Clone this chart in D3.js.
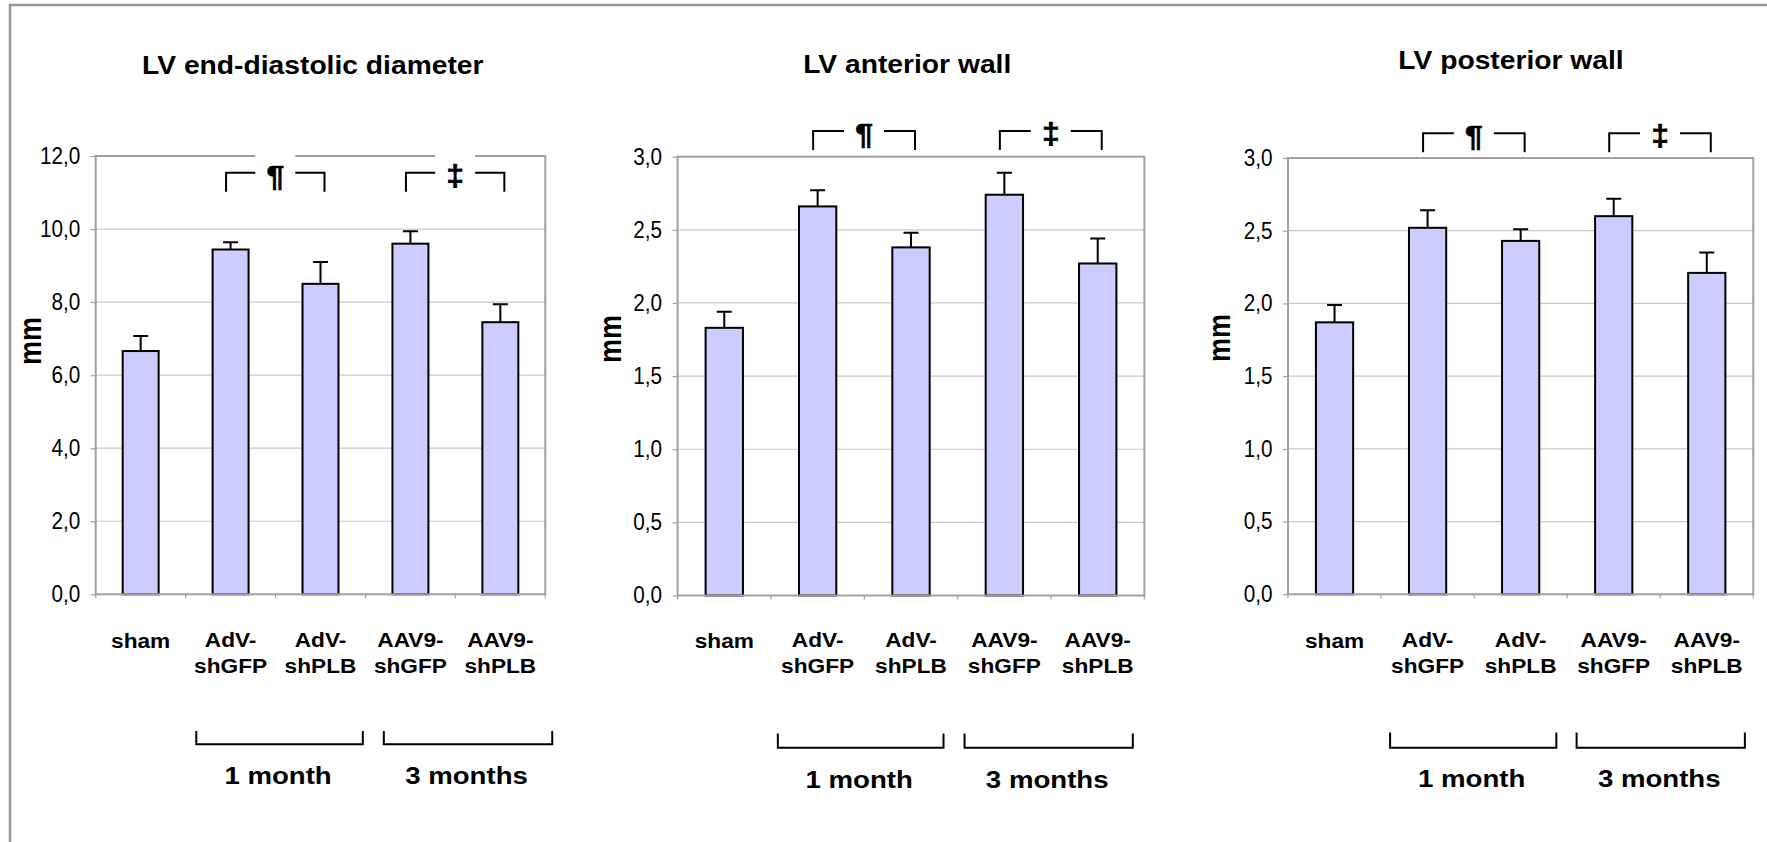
<!DOCTYPE html>
<html><head><meta charset="utf-8">
<script src="https://cdn.jsdelivr.net/npm/d3@7"></script>
<style>
body{margin:0;background:#fff;}
svg{display:block;}
text{font-family:"Liberation Sans",Arial,Helvetica,sans-serif;fill:#000;}
</style>
</head><body>
<svg id="chart" width="1767" height="842"></svg>
<script>
// ---------------- DATA ----------------
const categories = ["sham", "AdV-shGFP", "AdV-shPLB", "AAV9-shGFP", "AAV9-shPLB"];
const titles = ["LV end-diastolic diameter", "LV anterior wall", "LV posterior wall"];
const yLabel = "mm";

const diameterMeans = [6.66, 9.44, 8.50, 9.60, 7.45];
const diameterErrors = [0.41, 0.20, 0.60, 0.34, 0.49];
const anteriorMeans = [1.83, 2.66, 2.38, 2.74, 2.27];
const anteriorErrors = [0.11, 0.11, 0.10, 0.15, 0.17];
const posteriorMeans = [1.87, 2.52, 2.43, 2.60, 2.21];
const posteriorErrors = [0.12, 0.12, 0.08, 0.12, 0.14];

const diameterTicks = [0, 2, 4, 6, 8, 10, 12];
const wallTicks = [0, 0.5, 1.0, 1.5, 2.0, 2.5, 3.0];

const sigFrom = [1, 3];
const sigTo = [2, 4];
const sigSymbols = ["¶", "‡"];

const groupLabels = ["1 month", "3 months"];
const groupFrom = [1, 3];
const groupTo = [2, 4];

// ---------------- LAYOUT (positions/styles only) ----------------
const panels = [
  {means: diameterMeans, errs: diameterErrors, ticks: diameterTicks, title: titles[0],
   left: 95.7, right: 545.3, top: 156, bottom: 594.3,
   titleX: 312.8, titleY: 74, mmX: 29.7, mmY: 341,
   sigTop: 172.7, sigBottom: 191.7,
   grpOff: [[-34.3, 42.3], [-26.6, 51.9]], grpTop: 731, grpBottom: 744.3, grpLabelY: 784},
  {means: anteriorMeans, errs: anteriorErrors, ticks: wallTicks, title: titles[1],
   left: 677.6, right: 1144.4, top: 156.7, bottom: 595.5,
   titleX: 907.2, titleY: 73.3, mmX: 609.6, mmY: 339,
   sigTop: 131, sigBottom: 150,
   grpOff: [[-39.8, 32.5], [-39.8, 35.1]], grpTop: 733.5, grpBottom: 747.7, grpLabelY: 788.3},
  {means: posteriorMeans, errs: posteriorErrors, ticks: wallTicks, title: titles[2],
   left: 1288, right: 1753.3, top: 158, bottom: 594.3,
   titleX: 1511, titleY: 69, mmX: 1218.6, mmY: 338,
   sigTop: 133.3, sigBottom: 152.3,
   grpOff: [[-37.5, 35.7], [-37.1, 38.1]], grpTop: 732.5, grpBottom: 747.7, grpLabelY: 787.3}
];

const BAR_FILL = "#ccccff";
const GRID = "#c8c8c8";
const BORDER = "#a0a0a0";
const fmt = v => d3.format(".1f")(v).replace(".", ",");

const svg = d3.select("#chart");

// outer frame
svg.append("path").attr("d", "M10,842 V5 H1767")
  .attr("fill", "none").attr("stroke", "#969696").attr("stroke-width", 2.5);

function stext(g, x, y, str, size, weight, anchor, sx) {
  return g.append("text")
    .attr("transform", `translate(${x},${y}) scale(${sx},1)`)
    .attr("text-anchor", anchor)
    .style("font-size", size + "px")
    .style("font-weight", weight)
    .text(str);
}

panels.forEach(p => {
  const g = svg.append("g");
  const x = d3.scaleBand().domain(categories).range([p.left, p.right]).paddingInner(0).paddingOuter(0);
  const yMax = p.ticks[p.ticks.length - 1];
  const y = d3.scaleLinear().domain([0, yMax]).range([p.bottom, p.top]);
  const bw = x.bandwidth() * 0.4;
  const cx = c => x(c) + x.bandwidth() / 2;

  // gridlines
  g.selectAll("line.grid").data(p.ticks.filter(t => t > 0 && t < yMax)).enter()
    .append("line").attr("class", "grid")
    .attr("x1", p.left).attr("x2", p.right)
    .attr("y1", d => y(d)).attr("y2", d => y(d))
    .attr("stroke", GRID).attr("stroke-width", 1.2);

  // error bars
  g.selectAll("path.err").data(categories).enter().append("path").attr("class", "err")
    .attr("d", (c, i) => {
      const X = cx(c), y0 = y(p.means[i]), y1 = y(p.means[i] + p.errs[i]);
      return `M${X},${y0} V${y1} M${X - 7.5},${y1} H${X + 7.5}`;
    })
    .attr("fill", "none").attr("stroke", "#000").attr("stroke-width", 2);

  // bars
  g.selectAll("rect.bar").data(categories).enter().append("rect").attr("class", "bar")
    .attr("x", c => cx(c) - bw / 2)
    .attr("width", bw)
    .attr("y", (c, i) => y(p.means[i]))
    .attr("height", (c, i) => y(0) - y(p.means[i]))
    .attr("fill", BAR_FILL).attr("stroke", "#000").attr("stroke-width", 2);

  // plot border
  g.append("rect").attr("x", p.left).attr("y", p.top)
    .attr("width", p.right - p.left).attr("height", p.bottom - p.top)
    .attr("fill", "none").attr("stroke", BORDER).attr("stroke-width", 2);

  // category ticks along bottom
  const bounds = categories.map(c => x(c)).concat([p.right]);
  g.selectAll("line.xt").data(bounds).enter().append("line").attr("class", "xt")
    .attr("x1", d => d).attr("x2", d => d)
    .attr("y1", p.bottom).attr("y2", p.bottom + 4)
    .attr("stroke", BORDER).attr("stroke-width", 1.2);

  // y axis
  const ax = g.append("g").attr("transform", `translate(${p.left},0)`)
    .call(d3.axisLeft(y).tickValues(p.ticks).tickSize(5).tickPadding(0).tickFormat(fmt));
  ax.select(".domain").remove();
  ax.selectAll(".tick line").attr("stroke", BORDER).attr("stroke-width", 1.2);
  ax.selectAll(".tick text")
    .attr("x", 0)
    .attr("transform", "translate(-15.5,0) scale(0.9,1)")
    .style("font-size", "23px")
    .style("font-family", '"Liberation Sans", Arial, sans-serif')
    .attr("fill", "#000");

  // significance brackets
  sigSymbols.forEach((sym, k) => {
    const L = cx(categories[sigFrom[k]]) - 4.5;
    const R = cx(categories[sigTo[k]]) + 4;
    const M = (L + R) / 2;
    g.append("rect").attr("x", M - 20).attr("y", p.sigTop - 22)
      .attr("width", 40).attr("height", 44).attr("fill", "#fff");
    g.append("path")
      .attr("d", `M${L},${p.sigBottom} V${p.sigTop} H${M - 20} M${M + 20},${p.sigTop} H${R} V${p.sigBottom}`)
      .attr("fill", "none").attr("stroke", "#000").attr("stroke-width", 2);
    stext(g, M, p.sigTop + 13, sym, 29, "bold", "middle", 1.1)
      .attr("stroke", "#000").attr("stroke-width", 0.6);
  });

  // category labels
  categories.forEach(c => {
    const parts = c.includes("-") ? [c.slice(0, c.indexOf("-") + 1), c.slice(c.indexOf("-") + 1)] : [c];
    if (parts.length === 1) {
      stext(g, cx(c), 647.5, parts[0], 21, "bold", "middle", 1.08);
    } else {
      stext(g, cx(c), 646.7, parts[0], 21, "bold", "middle", 1.08);
      stext(g, cx(c), 673.3, parts[1], 21, "bold", "middle", 1.08);
    }
  });

  // group brackets
  groupLabels.forEach((lab, k) => {
    const L = cx(categories[groupFrom[k]]) + p.grpOff[k][0];
    const R = cx(categories[groupTo[k]]) + p.grpOff[k][1];
    g.append("path")
      .attr("d", `M${L},${p.grpTop} V${p.grpBottom} H${R} V${p.grpTop}`)
      .attr("fill", "none").attr("stroke", "#000").attr("stroke-width", 2);
    stext(g, (L + R) / 2 - 1.5, p.grpLabelY, lab, 24, "bold", "middle", 1.15);
  });

  // title
  stext(g, p.titleX, p.titleY, p.title, 25, "bold", "middle", 1.13);

  // y label
  g.append("text")
    .attr("transform", `translate(${p.mmX},${p.mmY}) rotate(-90) scale(1,1.13)`)
    .attr("text-anchor", "middle").attr("dy", "0.36em")
    .style("font-size", "27px").style("font-weight", "bold")
    .text(yLabel);
});
</script>
</body></html>
